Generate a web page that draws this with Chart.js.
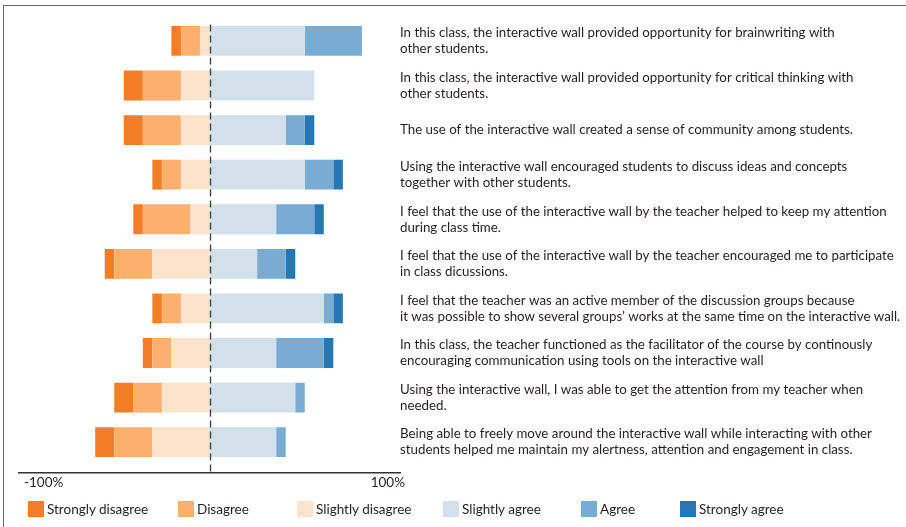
<!DOCTYPE html>
<html>
<head>
<meta charset="utf-8">
<script src="https://cdn.jsdelivr.net/npm/chart.js@4.4.1/dist/chart.umd.min.js"></script>
<style>
  html, body { margin: 0; padding: 0; background: #fff; overflow: hidden; }
  #wrap { position: relative; width: 906px; height: 527px; font-family: Lato, "Open Sans", sans-serif; }
  #frame { position: absolute; left: 3px; top: 5px; width: 950px; height: 560px;
           border: 1px solid #666; box-sizing: border-box; pointer-events: none; }
  #legend { position: absolute; left: 28px; top: 501px; display: grid;
            grid-template-columns: 150px 119px 146px 138px 99px auto;
            font-size: 13.5px; color: #231f20; }
  #legend .item { display: flex; align-items: center; height: 16px; white-space: nowrap; }
  #legend .box { width: 16px; height: 16px; margin-right: 3px; flex: none; }
</style>
</head>
<body>
<div id="wrap">
  <canvas id="likert"></canvas>
  <div id="legend"></div>
  <div id="frame"></div>
</div>
<script>
// Survey statements, one per row (already broken into lines)
const statements = [
    ['In this class, the interactive wall provided opportunity for brainwriting with', 'other students.'],
    ['In this class, the interactive wall provided opportunity for critical thinking with', 'other students.'],
    ['The use of the interactive wall created a sense of community among students.'],
    ['Using the interactive wall encouraged students to discuss ideas and concepts', 'together with other students.'],
    ['I feel that the use of the interactive wall by the teacher helped to keep my attention', 'during class time.'],
    ['I feel that the use of the interactive wall by the teacher encouraged me to participate', 'in class dicussions.'],
    ['I feel that the teacher was an active member of the discussion groups because', 'it was possible to show several groups\u2019 works at the same time on the interactive wall.'],
    ['In this class, the teacher functioned as the facilitator of the course by continously', 'encouraging communication using tools on the interactive wall'],
    ['Using the interactive wall, I was able to get the attention from my teacher when', 'needed.'],
    ['Being able to freely move around the interactive wall while interacting with other', 'students helped me maintain my alertness, attention and engagement in class.']
];

const levels = ['Strongly disagree', 'Disagree', 'Slightly disagree', 'Slightly agree', 'Agree', 'Strongly agree'];
const levelColors = ['#f47e27', '#fbb06f', '#fde2cc', '#d1e0eb', '#79acd2', '#2777b4'];

// Share of responses (%) per statement
const stronglyDisagree = [5, 10, 10, 5, 5, 5, 5, 5, 10, 10];
const disagree         = [10, 20, 20, 10, 25, 20, 10, 10, 15, 20];
const slightlyDisagree = [5, 15, 15, 15, 10, 30, 15, 20, 25, 30];
const slightlyAgree    = [50, 55, 40, 50, 35, 25, 60, 35, 45, 35];
const agree            = [30, 0, 10, 15, 20, 15, 5, 25, 5, 5];
const stronglyAgree    = [0, 0, 5, 5, 5, 5, 5, 5, 0, 0];

const xTicks = [-100, 100];

const FONT = 'Lato, "Open Sans", sans-serif';
const TEXT = '#231f20';

// disagreement goes left of zero, nearest level first so it stacks outward
function series(level, values, sign) {
    const idx = levels.indexOf(level);
    return {
        label: level,
        data: values.map((v, i) => ({ x: sign * v, y: i })),
        backgroundColor: levelColors[idx],
        borderWidth: 0
    };
}

const datasets = [
    series('Slightly disagree', slightlyDisagree, -1),
    series('Disagree', disagree, -1),
    series('Strongly disagree', stronglyDisagree, -1),
    series('Slightly agree', slightlyAgree, 1),
    series('Agree', agree, 1),
    series('Strongly agree', stronglyAgree, 1)
];

// dashed neutral line at 0%
const zeroLine = {
    id: 'zeroLine',
    afterDatasetsDraw(chart) {
        const { ctx, chartArea, scales } = chart;
        const px = Math.round(scales.x.getPixelForValue(0)) + 0.5;
        ctx.save();
        ctx.strokeStyle = '#444';
        ctx.lineWidth = 1.4;
        ctx.setLineDash([7, 4]);
        ctx.beginPath();
        ctx.moveTo(px, chartArea.top + 6);
        ctx.lineTo(px, chartArea.bottom + 2);
        ctx.stroke();
        ctx.restore();
    }
};

// legend rendered as html so the items can sit in fixed columns
const htmlLegend = {
    id: 'htmlLegend',
    afterUpdate(chart) {
        const box = document.getElementById('legend');
        box.innerHTML = '';
        const items = chart.options.plugins.legend.labels.generateLabels(chart)
            .sort((a, b) => levels.indexOf(a.text) - levels.indexOf(b.text));
        items.forEach(item => {
            const el = document.createElement('div');
            el.className = 'item';
            const sw = document.createElement('span');
            sw.className = 'box';
            sw.style.background = item.fillStyle;
            const txt = document.createElement('span');
            txt.textContent = item.text;
            el.appendChild(sw);
            el.appendChild(txt);
            box.appendChild(el);
        });
    }
};

new Chart(document.getElementById('likert'), {
    type: 'bar',
    data: { datasets: datasets },
    options: {
        indexAxis: 'y',
        responsive: true,
        maintainAspectRatio: false,
        animation: false,
        categoryPercentage: 1,
        barPercentage: 0.67,
        layout: { padding: { left: 0, top: 18.6, right: 0, bottom: 34.3 } },
        scales: {
            x: {
                type: 'linear',
                min: -100,
                max: 100,
                stacked: true,
                grid: { display: false, drawTicks: false },
                border: { color: '#333', width: 1.5 },
                afterBuildTicks: s => { s.ticks = xTicks.map(v => ({ value: v })); },
                ticks: {
                    align: 'inner',
                    padding: 2,
                    labelOffset: 5,
                    color: TEXT,
                    font: { family: FONT, size: 13.5, lineHeight: 1.2 },
                    callback: v => v + '%'
                },
                afterFit: s => { s.paddingLeft = 0; s.paddingRight = 0; }
            },
            y: {
                type: 'linear',
                position: 'right',
                reverse: true,
                offset: false,
                min: -0.5,
                max: 9.68,
                stacked: true,
                grid: { display: false, drawTicks: false, offset: false },
                border: { display: false },
                afterBuildTicks: s => { s.ticks = statements.map((_, i) => ({ value: i })); },
                ticks: {
                    crossAlign: 'near',
                    padding: 0,
                    color: TEXT,
                    font: { family: FONT, size: 13.3, lineHeight: 1.2 },
                    callback: v => statements[v]
                },
                afterFit: s => { s.width = 506; s.paddingTop = 0; s.paddingBottom = 0; }
            },
            // empty strip that keeps the bars off the left edge
            spacer: {
                type: 'linear',
                position: 'left',
                grid: { display: false, drawTicks: false },
                border: { display: false },
                ticks: { display: false },
                afterFit: s => { s.width = 19; }
            }
        },
        plugins: {
            tooltip: { enabled: false },
            legend: { display: false }
        }
    },
    plugins: [zeroLine, htmlLegend]
});
</script>
</body>
</html>
